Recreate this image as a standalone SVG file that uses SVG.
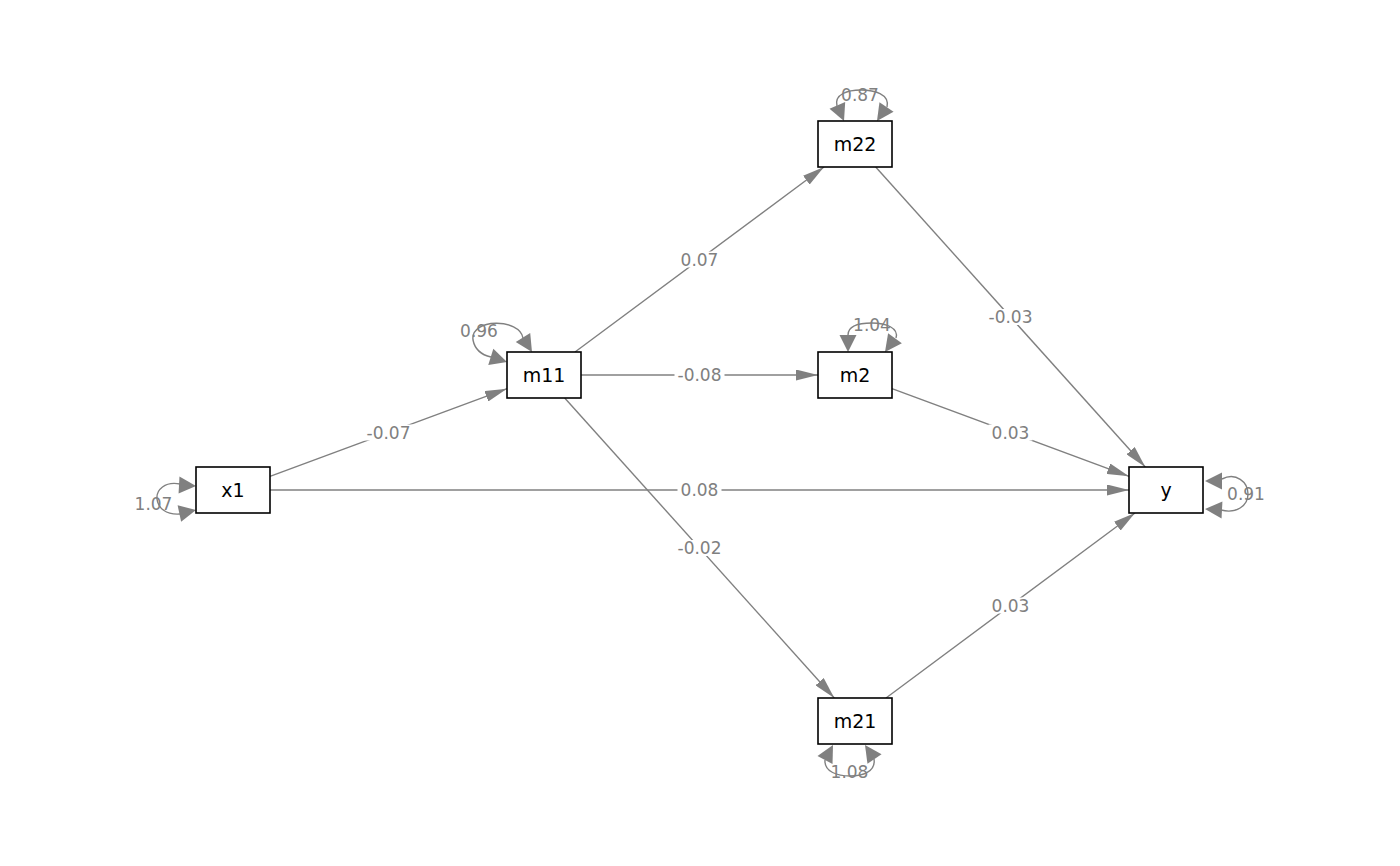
<svg xmlns="http://www.w3.org/2000/svg" xmlns:xlink="http://www.w3.org/1999/xlink" width="1400" height="866" viewBox="0 0 1400 866">
<style>
.edge{fill:none;stroke:#808080;stroke-width:1.4}
.loop{fill:none;stroke:#808080;stroke-width:1.4}
.ah{fill:#808080;stroke:none}
.lbl{font-family:"DejaVu Sans",sans-serif;font-size:17px;fill:#808080;text-anchor:middle}
.lbg{fill:#ffffff;stroke:none}
.box{fill:#ffffff;stroke:#000000;stroke-width:1.6}
.ntxt{font-family:"DejaVu Sans",sans-serif;font-size:19px;fill:#000000;text-anchor:middle}
</style>
<defs>
<marker id="arr" viewBox="0 0 22 11" refX="22" refY="5.5" markerWidth="22" markerHeight="11" markerUnits="userSpaceOnUse" orient="auto">
<path d="M0,0 L22,5.5 L0,11 Z" fill="#808080"/>
</marker>
<path id="lh" class="ah" d="M0,0 L-17,-8.5 L-17,8.5 Z"/>
</defs>
<rect width="1400" height="866" fill="#ffffff"/>
<g id="connectors">
<line class="edge" x1="270" y1="476.3" x2="507" y2="388.7" marker-end="url(#arr)"/>
<line class="edge" x1="575" y1="352" x2="824" y2="167" marker-end="url(#arr)"/>
<line class="edge" x1="581" y1="375" x2="818" y2="375" marker-end="url(#arr)"/>
<line class="edge" x1="564.7" y1="398" x2="834.3" y2="698" marker-end="url(#arr)"/>
<line class="edge" x1="875.7" y1="167" x2="1145.3" y2="467" marker-end="url(#arr)"/>
<line class="edge" x1="892" y1="388.7" x2="1129" y2="476.3" marker-end="url(#arr)"/>
<line class="edge" x1="270" y1="490" x2="1129" y2="490" marker-end="url(#arr)"/>
<line class="edge" x1="886" y1="698" x2="1135" y2="513" marker-end="url(#arr)"/>
<rect class="lbg" x="363.5" y="424.5" width="50" height="16"/>
<text class="lbl" x="388.5" y="438.7">-0.07</text>
<rect class="lbg" x="677.5" y="251.5" width="44" height="16"/>
<text class="lbl" x="699.5" y="265.7">0.07</text>
<rect class="lbg" x="674.5" y="367" width="50" height="16"/>
<text class="lbl" x="699.5" y="381.2">-0.08</text>
<rect class="lbg" x="674.5" y="540" width="50" height="16"/>
<text class="lbl" x="699.5" y="554.2">-0.02</text>
<rect class="lbg" x="985.5" y="309" width="50" height="16"/>
<text class="lbl" x="1010.5" y="323.2">-0.03</text>
<rect class="lbg" x="988.5" y="424.5" width="44" height="16"/>
<text class="lbl" x="1010.5" y="438.7">0.03</text>
<rect class="lbg" x="677.5" y="482" width="44" height="16"/>
<text class="lbl" x="699.5" y="496.2">0.08</text>
<rect class="lbg" x="988.5" y="597.5" width="44" height="16"/>
<text class="lbl" x="1010.5" y="611.7">0.03</text>
<!-- self loops -->
<path class="loop" d="M180 484 C165 481,156 490,157 499 C158 508,166 515,180 514"/>
<use xlink:href="#lh" href="#lh" transform="translate(196,486) rotate(3)"/>
<use xlink:href="#lh" href="#lh" transform="translate(196,510) rotate(-12)"/>
<text class="lbl" x="153.5" y="509.7">1.07</text>
<path class="loop" d="M523 338 C520 318,470 318,473 340 C475 350,482 355,491 357"/>
<use xlink:href="#lh" href="#lh" transform="translate(532,352) rotate(58)"/>
<use xlink:href="#lh" href="#lh" transform="translate(507,362) rotate(17.5)"/>
<text class="lbl" x="479" y="337.2">0.96</text>
<path class="loop" d="M837 106 C834 94,848 90,861 90 C874 90,890 94,887 107"/>
<use xlink:href="#lh" href="#lh" transform="translate(844,121) rotate(67)"/>
<use xlink:href="#lh" href="#lh" transform="translate(877,121) rotate(124)"/>
<text class="lbl" x="860" y="101.2">0.87</text>
<path class="loop" d="M848 335 C848 326,858 323,872 323 C886 323,899 328,896 338"/>
<use xlink:href="#lh" href="#lh" transform="translate(848,352) rotate(90)"/>
<use xlink:href="#lh" href="#lh" transform="translate(885,352) rotate(126)"/>
<text class="lbl" x="872" y="330.7">1.04</text>
<path class="loop" d="M1222 479 C1236 472,1248 482,1248 494 C1248 506,1236 514,1221 510"/>
<use xlink:href="#lh" href="#lh" transform="translate(1205,481) rotate(180)"/>
<use xlink:href="#lh" href="#lh" transform="translate(1205,509) rotate(183)"/>
<text class="lbl" x="1246" y="500.2">0.91</text>
<path class="loop" d="M825 760 C824 772,838 776,850 776 C862 776,876 772,874 759"/>
<use xlink:href="#lh" href="#lh" transform="translate(833,745) rotate(-62)"/>
<use xlink:href="#lh" href="#lh" transform="translate(865,745) rotate(-124)"/>
<text class="lbl" x="849.5" y="777.7">1.08</text>
</g>
<g id="node-x1"><rect class="box" x="196" y="467" width="74" height="46"/><text class="ntxt" x="233" y="497">x1</text></g>
<g id="node-m11"><rect class="box" x="507" y="352" width="74" height="46"/><text class="ntxt" x="544" y="382">m11</text></g>
<g id="node-m22"><rect class="box" x="818" y="121" width="74" height="46"/><text class="ntxt" x="855" y="151">m22</text></g>
<g id="node-m2"><rect class="box" x="818" y="352" width="74" height="46"/><text class="ntxt" x="855" y="382">m2</text></g>
<g id="node-y"><rect class="box" x="1129" y="467" width="74" height="46"/><text class="ntxt" x="1166" y="497">y</text></g>
<g id="node-m21"><rect class="box" x="818" y="698" width="74" height="46"/><text class="ntxt" x="855" y="728">m21</text></g>
</svg>
